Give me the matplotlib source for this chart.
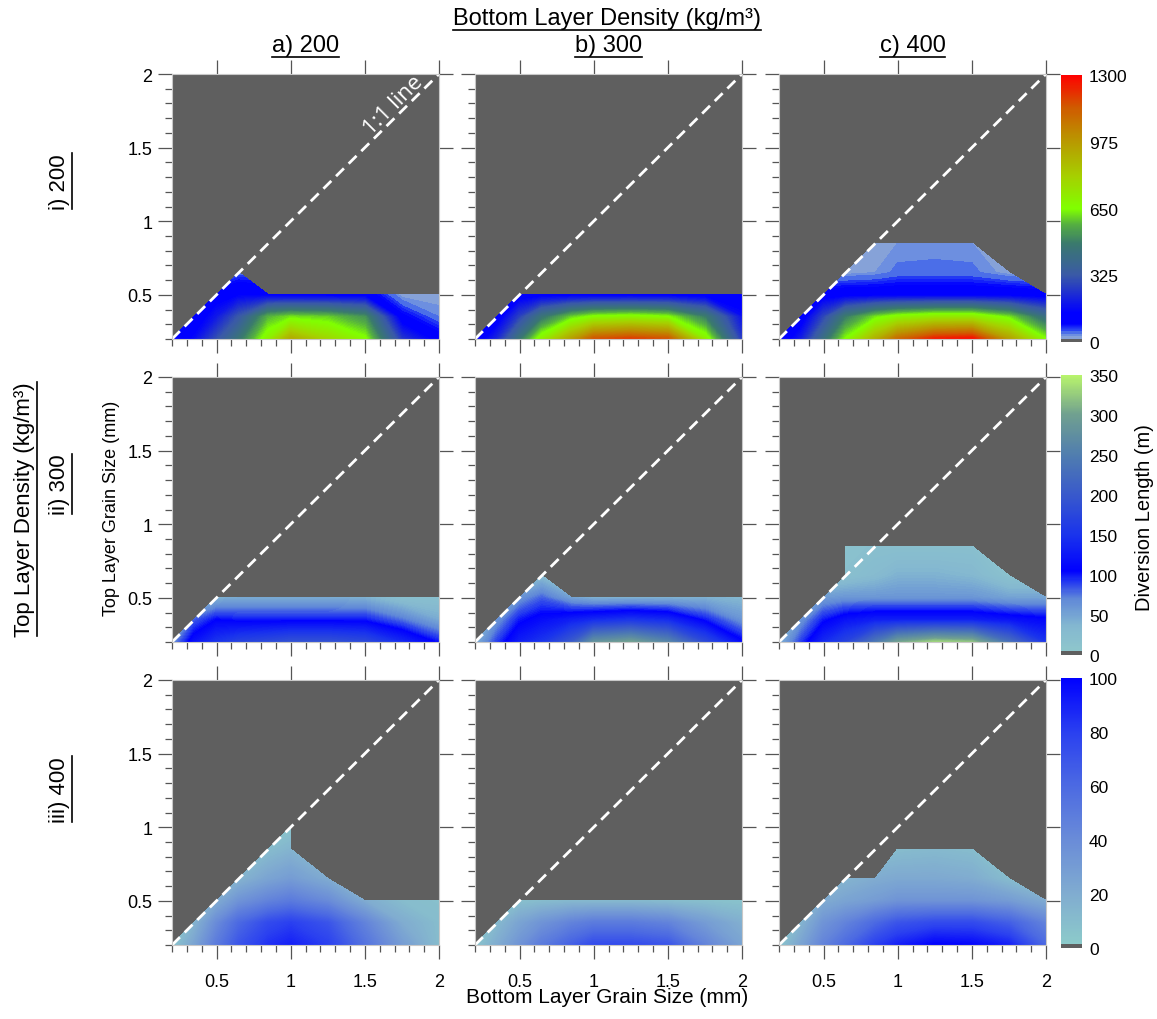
import numpy as np
import matplotlib
matplotlib.use('Agg')
import matplotlib.pyplot as plt
from matplotlib.colors import LinearSegmentedColormap, Normalize
from matplotlib.cm import ScalarMappable
from matplotlib.lines import Line2D
from matplotlib.ticker import FixedLocator, MultipleLocator
from matplotlib import font_manager

N = np.nan

# grid of grain sizes (mm)
grain_bottom = [0.2, 0.35, 0.5, 0.65, 0.85, 1.0, 1.25, 1.5, 1.75, 2.0]
grain_top = [0.2, 0.35, 0.5, 0.65, 0.85, 1.0]

# diversion length (m), one row per top grain size, N = no diversion
len_a_i = [
    [80, 160, 300, 450, 700, 920, 780, 660, 250, 110],
    [N, 90, 190, 320, 570, 620, 600, 520, 100, 40],
    [N, N, 110, 140, 130, 120, 120, 120, 20, 20],
    [N, N, N, 50, N, N, N, N, N, N],
]
len_b_i = [
    [80, 220, 450, 700, 950, 1150, 1200, 1150, 700, 250],
    [N, 100, 270, 450, 600, 660, 680, 650, 480, 170],
    [N, N, 110, 120, 120, 120, 120, 120, 110, 90],
]
len_c_i = [
    [80, 200, 420, 650, 900, 1100, 1250, 1280, 950, 650],
    [N, 100, 280, 480, 620, 680, 720, 720, 620, 420],
    [N, N, 110, 120, 120, 120, 120, 120, 120, 110],
    [N, N, N, 22, 30, 45, 48, 45, 22, N],
    [N, N, N, N, 30, 30, 30, 30, N, N],
]
len_a_ii = [
    [60, 120, 150, 170, 180, 190, 190, 180, 140, 100],
    [N, 80, 105, 100, 100, 100, 100, 100, 75, 45],
    [N, N, 40, 45, 45, 45, 45, 40, 20, 20],
]
len_b_ii = [
    [40, 90, 130, 150, 200, 280, 300, 260, 180, 110],
    [N, 60, 100, 115, 130, 140, 150, 140, 100, 60],
    [N, N, 60, 80, 50, 40, 40, 40, 40, 35],
    [N, N, N, 30, N, N, N, N, N, N],
]
len_c_ii = [
    [40, 90, 140, 170, 240, 300, 330, 320, 230, 150],
    [N, 60, 100, 120, 130, 130, 130, 130, 120, 110],
    [N, N, 55, 60, 60, 60, 60, 60, 50, 50],
    [N, N, N, 20, 30, 40, 40, 35, 15, N],
    [N, N, N, 15, 20, 20, 20, 20, N, N],
]
len_a_iii = [
    [5, 25, 50, 70, 85, 90, 80, 55, 30, 10],
    [N, 15, 40, 60, 75, 80, 70, 45, 20, 10],
    [N, N, 20, 35, 45, 50, 40, 20, 10, 8],
    [N, N, N, 15, 25, 30, 20, N, N, N],
    [N, N, N, N, 10, 15, N, N, N, N],
    [N, N, N, N, N, 5, N, N, N, N],
]
len_b_iii = [
    [5, 20, 35, 50, 65, 75, 75, 70, 45, 25],
    [N, 12, 25, 35, 45, 50, 50, 45, 30, 18],
    [N, N, 8, 10, 12, 12, 12, 10, 8, 6],
]
len_c_iii = [
    [5, 25, 45, 60, 80, 90, 100, 98, 90, 60],
    [N, 15, 35, 45, 60, 70, 75, 75, 65, 45],
    [N, N, 20, 25, 30, 35, 35, 35, 30, 20],
    [N, N, N, 15, 20, 22, 22, 20, 10, N],
    [N, N, N, N, N, 10, 12, 10, N, N],
]

col_titles = ['a) 200', 'b) 300', 'c) 400']
row_titles = ['i) 200', 'ii) 300', 'iii) 400']
panels = [
    [len_a_i, len_b_i, len_c_i],
    [len_a_ii, len_b_ii, len_c_ii],
    [len_a_iii, len_b_iii, len_c_iii],
]
row_max = [1300, 350, 100]
row_ticks = [[0, 325, 650, 975, 1300],
             [0, 50, 100, 150, 200, 250, 300, 350],
             [0, 20, 40, 60, 80, 100]]

GRAY = '#5f5f5f'
row_cmaps = [
    LinearSegmentedColormap.from_list('r1', [
        (0.0, GRAY), (0.01, GRAY), (0.01, '#86a2d8'), (0.02, '#86a2d8'),
        (0.02, '#6d8fe0'), (0.031, '#6d8fe0'), (0.031, '#4b6ee8'), (0.043, '#4b6ee8'),
        (0.043, '#2a45f2'), (0.065, '#0000ff'), (0.11, '#0000ff'), (0.25, '#3a5aa6'),
        (0.37, '#3a7a6c'), (0.44, '#55b040'), (0.5, '#80ff00'), (0.62, '#a6d000'),
        (0.75, '#b89a00'), (0.88, '#d05a00'), (1.0, '#ff0000')]),
    LinearSegmentedColormap.from_list('r2', [
        (0.0, GRAY), (0.015, GRAY), (0.015, '#8ec6cc'), (0.1, '#84b8d0'),
        (0.2, '#6088d8'), (0.27, '#1a2cf4'), (0.3, '#0000ff'), (0.43, '#1a34ec'),
        (0.57, '#3858cc'), (0.71, '#4f7cb0'), (0.86, '#70a090'), (1.0, '#b8f46c')]),
    LinearSegmentedColormap.from_list('r3', [
        (0.0, GRAY), (0.015, GRAY), (0.015, '#8ccaca'), (0.2, '#80acd0'),
        (0.4, '#6a8cd8'), (0.6, '#4c6ae2'), (0.8, '#2a40f0'), (1.0, '#0000ff')]),
]

names = {f.name for f in font_manager.fontManager.ttflist}
NARROW = 'Liberation Sans Narrow' if 'Liberation Sans Narrow' in names else 'Liberation Sans'
plt.rcParams['font.family'] = 'Liberation Sans'

W, H = 1157, 1020
fig = plt.figure(figsize=(W / 100, H / 100), dpi=100)

col_left = [172, 475, 779]
row_top = [75, 378, 681]
pw, ph = 267, 265
cbar_span = [(76, 343), (376, 656), (679, 949)]

xg, yg = np.meshgrid(grain_bottom, grain_top)

for r in range(3):
    norm = Normalize(0, row_max[r])
    levels = np.linspace(0, row_max[r], 131)
    for c in range(3):
        ax = fig.add_axes([col_left[c] / W, 1 - (row_top[r] + ph) / H, pw / W, ph / H])
        ax.set_facecolor(GRAY)
        z = np.full((len(grain_top), len(grain_bottom)), np.nan)
        rows = panels[r][c]
        z[:len(rows)] = rows
        cs = ax.contourf(xg, yg, np.ma.masked_invalid(z), levels=levels,
                         cmap=row_cmaps[r], norm=norm, corner_mask=True)
        cs.set_edgecolor('face')
        cs.set_linewidth(0.3)

        lim = [0.2, 2.0]
        ax.plot(lim, lim, color='white', lw=2, linestyle=(0, (4, 2.4)))
        ax.set_xlim(lim)
        ax.set_ylim(lim)

        for ax_ in (ax.xaxis, ax.yaxis):
            ax_.set_major_locator(FixedLocator([0.5, 1, 1.5, 2]))
            ax_.set_minor_locator(MultipleLocator(0.1))
        ax.set_xticklabels(['0.5', '1', '1.5', '2'])
        ax.set_yticklabels(['0.5', '1', '1.5', '2'])
        ax.tick_params(which='both', direction='out', color='#555555', width=0.9)
        ax.tick_params(which='major', length=10, top=True, right=True)
        ax.tick_params(which='minor', length=5, top=False, right=False)
        ax.tick_params(axis='x', labelsize=13, pad=10,
                       labelbottom=(r == 2))
        ax.tick_params(axis='y', labelsize=13, pad=4, labelleft=(c == 0))
        for lab in ax.get_xticklabels():
            lab.set_family(NARROW)
        for sp in ax.spines.values():
            sp.set_color('#c8c8c8')
            sp.set_linewidth(0.8)

        if r == 0 and c == 0:
            ax.text(1.69, 1.79, '1:1 line', color='white', fontsize=16,
                    rotation=45, ha='center', va='center', family='Open Sans')

    top, bot = cbar_span[r]
    cax = fig.add_axes([1061 / W, 1 - bot / H, 21 / W, (bot - top) / H])
    cb = fig.colorbar(ScalarMappable(norm=norm, cmap=row_cmaps[r]), cax=cax,
                      ticks=row_ticks[r])
    cb.outline.set_visible(False)
    cax.tick_params(length=0, labelsize=12.5, pad=5)

texts = []
texts.append((fig.text(607 / W, 1 - 19 / H, 'Bottom Layer Density (kg/m³)', ha='center',
                       va='center', fontsize=17, family=NARROW), False))
for c in range(3):
    texts.append((fig.text((col_left[c] + pw / 2) / W, 1 - 46 / H, col_titles[c],
                           ha='center', va='center', fontsize=17, family=NARROW), False))
texts.append((fig.text(25 / W, 1 - 510 / H, 'Top Layer Density (kg/m³)', rotation=90,
                       ha='center', va='center', fontsize=16, family=NARROW), True))
for r, yc in enumerate([182, 485, 790]):
    texts.append((fig.text(60 / W, 1 - yc / H, row_titles[r], rotation=90, ha='center',
                           va='center', fontsize=16, family=NARROW), True))

fig.text(112 / W, 1 - 508 / H, 'Top Layer Grain Size (mm)', rotation=90, ha='center',
         va='center', fontsize=13, family=NARROW)
fig.text(607 / W, 1 - 998 / H, 'Bottom Layer Grain Size (mm)', ha='center',
         va='center', fontsize=15, family=NARROW)
fig.text(1145 / W, 1 - 518 / H, 'Diversion Length (m)', rotation=90, ha='center',
         va='center', fontsize=14.5)

# underline the density headings
fig.canvas.draw()
inv = fig.transFigure.inverted()
for t, vertical in texts:
    bb = t.get_window_extent().transformed(inv)
    if vertical:
        x = bb.x1 + 1 / W
        fig.add_artist(Line2D([x, x], [bb.y0, bb.y1], color='black', lw=1.2))
    else:
        y = bb.y0 - 1 / H
        fig.add_artist(Line2D([bb.x0, bb.x1], [y, y], color='black', lw=1.2))

fig.savefig('out.png', dpi=100)
